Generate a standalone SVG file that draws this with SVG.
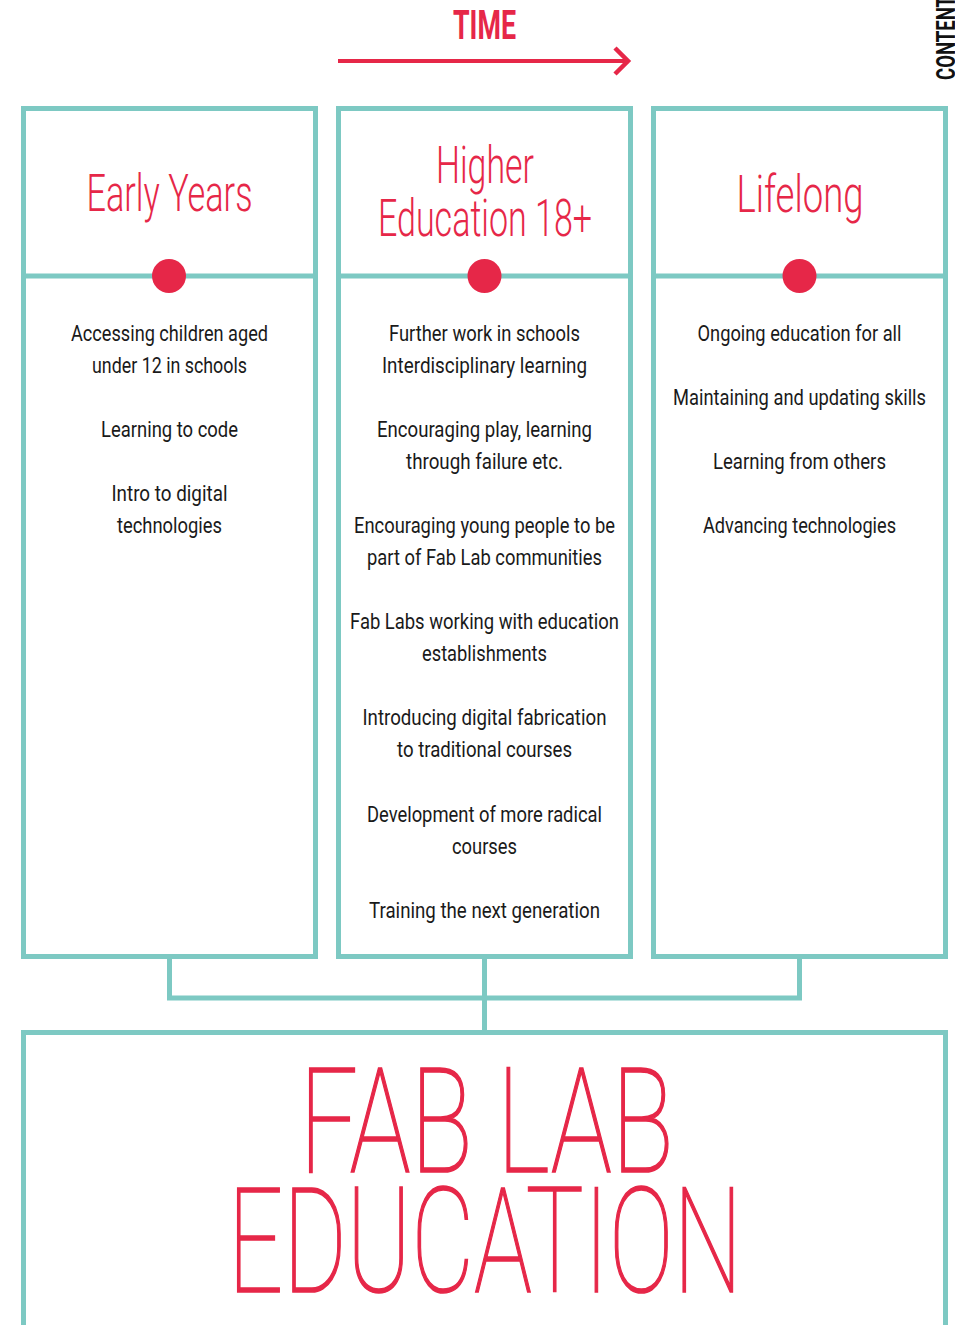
<svg xmlns="http://www.w3.org/2000/svg" width="955" height="1325" viewBox="0 0 955 1325">
  <style>
    .frame { fill: none; stroke: #7DC9C3; stroke-width: 5; }
    .link { fill: none; stroke: #7DC9C3; stroke-width: 5; }
    .dot { fill: #E62748; }
    .title { font-family: Roboto, "Liberation Sans", sans-serif; font-weight: 300; font-size: 52px; fill: #E62748; text-anchor: middle; }
    .item { font-family: Roboto, "Liberation Sans", sans-serif; font-weight: 400; font-size: 22px; fill: #1a1a1a; text-anchor: middle; }
    .big { font-family: Roboto, "Liberation Sans", sans-serif; font-weight: 100; font-size: 146px; fill: #E62748; stroke: #E62748; stroke-width: 1.6; text-anchor: middle; }
    .time { font-family: Roboto, "Liberation Sans", sans-serif; font-weight: 700; font-size: 40px; fill: #E62748; text-anchor: middle; }
    .side { font-family: Roboto, "Liberation Sans", sans-serif; font-weight: 700; font-size: 25px; fill: #111; }
  </style>

  <!-- time axis -->
  <g id="time-axis">
    <text class="time" x="484.5" y="39" textLength="63" lengthAdjust="spacingAndGlyphs">TIME</text>
    <line x1="338" y1="61" x2="627" y2="61" stroke="#E62748" stroke-width="4"/>
    <polyline points="615,48 628,61 615,74" fill="none" stroke="#E62748" stroke-width="4.5"/>
  </g>

  <!-- section tab -->
  <g id="side-label">
    <text class="side" transform="translate(955,80) rotate(-90)" x="0" y="0" textLength="84" lengthAdjust="spacingAndGlyphs">CONTENT</text>
  </g>

  <!-- connectors -->
  <g id="connectors">
    <polyline class="link" points="169.5,957 169.5,998 799.5,998 799.5,957"/>
    <line class="link" x1="484.5" y1="957" x2="484.5" y2="1032"/>
  </g>

  <!-- column: early years -->
  <g id="early-years">
    <rect class="frame" x="23.5" y="108.5" width="292" height="848"/>
    <line class="frame" x1="23.5" y1="276" x2="315.5" y2="276"/>
    <circle class="dot" cx="169" cy="276" r="17"/>
    <text class="title" x="169.5" y="211" textLength="166" lengthAdjust="spacingAndGlyphs">Early Years</text>
    <text class="item" x="169.5" y="341" textLength="197" lengthAdjust="spacingAndGlyphs">Accessing children aged</text>
    <text class="item" x="169.5" y="373" textLength="155" lengthAdjust="spacingAndGlyphs">under 12 in schools</text>
    <text class="item" x="169.5" y="437" textLength="137" lengthAdjust="spacingAndGlyphs">Learning to code</text>
    <text class="item" x="169.5" y="501" textLength="116" lengthAdjust="spacingAndGlyphs">Intro to digital</text>
    <text class="item" x="169.5" y="533" textLength="105" lengthAdjust="spacingAndGlyphs">technologies</text>
  </g>

  <!-- column: higher education -->
  <g id="higher-education">
    <rect class="frame" x="338.5" y="108.5" width="292" height="848"/>
    <line class="frame" x1="338.5" y1="276" x2="630.5" y2="276"/>
    <circle class="dot" cx="484.5" cy="276" r="17"/>
    <text class="title" x="485" y="183" textLength="98" lengthAdjust="spacingAndGlyphs">Higher</text>
    <text class="title" x="485" y="236" textLength="214" lengthAdjust="spacingAndGlyphs">Education 18+</text>
    <text class="item" x="484.5" y="341" textLength="191" lengthAdjust="spacingAndGlyphs">Further work in schools</text>
    <text class="item" x="484.5" y="373" textLength="205" lengthAdjust="spacingAndGlyphs">Interdisciplinary learning</text>
    <text class="item" x="484.5" y="437" textLength="215" lengthAdjust="spacingAndGlyphs">Encouraging play, learning</text>
    <text class="item" x="484.5" y="469" textLength="157" lengthAdjust="spacingAndGlyphs">through failure etc.</text>
    <text class="item" x="484.5" y="533" textLength="261" lengthAdjust="spacingAndGlyphs">Encouraging young people to be</text>
    <text class="item" x="484.5" y="565" textLength="235" lengthAdjust="spacingAndGlyphs">part of Fab Lab communities</text>
    <text class="item" x="484.5" y="629" textLength="269" lengthAdjust="spacingAndGlyphs">Fab Labs working with education</text>
    <text class="item" x="484.5" y="661" textLength="125" lengthAdjust="spacingAndGlyphs">establishments</text>
    <text class="item" x="484.5" y="725" textLength="244" lengthAdjust="spacingAndGlyphs">Introducing digital fabrication</text>
    <text class="item" x="484.5" y="757" textLength="175" lengthAdjust="spacingAndGlyphs">to traditional courses</text>
    <text class="item" x="484.5" y="822" textLength="235" lengthAdjust="spacingAndGlyphs">Development of more radical</text>
    <text class="item" x="484.5" y="854" textLength="65" lengthAdjust="spacingAndGlyphs">courses</text>
    <text class="item" x="484.5" y="918" textLength="231" lengthAdjust="spacingAndGlyphs">Training the next generation</text>
  </g>

  <!-- column: lifelong -->
  <g id="lifelong">
    <rect class="frame" x="653.5" y="108.5" width="292" height="848"/>
    <line class="frame" x1="653.5" y1="276" x2="945.5" y2="276"/>
    <circle class="dot" cx="799.5" cy="276" r="17"/>
    <text class="title" x="800" y="212" textLength="127" lengthAdjust="spacingAndGlyphs">Lifelong</text>
    <text class="item" x="799.5" y="341" textLength="204" lengthAdjust="spacingAndGlyphs">Ongoing education for all</text>
    <text class="item" x="799.5" y="405" textLength="253" lengthAdjust="spacingAndGlyphs">Maintaining and updating skills</text>
    <text class="item" x="799.5" y="469" textLength="173" lengthAdjust="spacingAndGlyphs">Learning from others</text>
    <text class="item" x="799.5" y="533" textLength="193" lengthAdjust="spacingAndGlyphs">Advancing technologies</text>
  </g>

  <!-- root: fab lab education -->
  <g id="fab-lab-education">
    <rect class="frame" x="23.5" y="1032.5" width="922" height="320"/>
    <text class="big" x="486.5" y="1172" textLength="374" lengthAdjust="spacingAndGlyphs">FAB LAB</text>
    <text class="big" x="485" y="1292" textLength="514" lengthAdjust="spacingAndGlyphs">EDUCATION</text>
  </g>
</svg>
